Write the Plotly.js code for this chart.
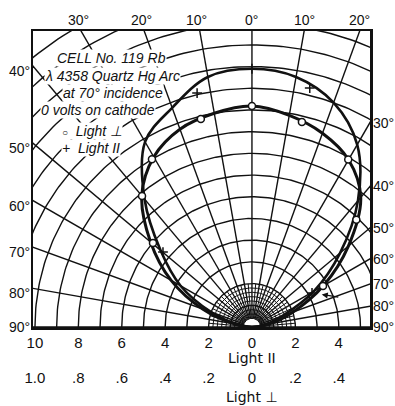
<!DOCTYPE html>
<html>
<head>
<meta charset="utf-8">
<script src="https://cdn.plot.ly/plotly-3.0.1.min.js"></script>
<style>html,body{margin:0;padding:0;background:#fff}</style>
</head>
<body>
<div id="chart" style="width:395px;height:406px"></div>
<script>
// Emission angle, degrees from the normal (negative = left of the normal)
const curveAngles = [-90, -80, -70, -60, -50, -40, -30, -20, -10, 0, 10, 20, 30, 40, 50, 60, 70, 80, 90];
// Smoothed photo-current, Light II (upper scale, 0–10)
const parallelCurve = [0, 0.7, 2.0, 3.8, 5.5, 7.7, 9.85, 10.75, 11.7, 11.9, 11.7, 11.0, 9.7, 7.6, 5.3, 3.3, 1.5, 0.6, 0];
// Smoothed photo-current, Light ⊥ (lower scale, 0–1)
const perpCurve = [0, 0.08, 0.24, 0.43, 0.61, 0.79, 0.905, 0.97, 1.0, 1.018, 0.99, 0.95, 0.89, 0.78, 0.58, 0.38, 0.2, 0.08, 0];

// Observed readings
const perpPointAngles = [0, -13.8, 13.7, -30.8, 29.9, -40, 44.2, -49.7, 60];
const perpPointValues = [1.018, 0.987, 0.972, 0.90, 0.89, 0.788, 0.69, 0.598, 0.378];
const parPointAngles = [0, -13.2, 13.6, -49.9, 60.5];
const parPointValues = [11.9, 11.07, 11.33, 5.36, 3.18];

// Bottom scales
const parTicks = [-10, -8, -6, -4, -2, 0, 2, 4];
const parTickText = ['10', '8', '6', '4', '2', '0', '2', '4'];
const perpTicks = [-1, -0.8, -0.6, -0.4, -0.2, 0, 0.2, 0.4];
const perpTickText = ['1.0', '.8', '.6', '.4', '.2', '0', '.2', '.4'];

// Angle labels round the frame
const topAngles = [-30, -20, -10, 0, 10, 20];
const leftAngles = [-40, -50, -60, -70, -80, -90];
const rightAngles = [30, 40, 50, 60, 70, 80, 90];

// Visible window in Light II units; the ⊥ axes use one tenth of it
const xMin = -10.09, xMax = 5.44, yMax = 13.64;
const perpRatio = 0.1;

const RAD = Math.PI / 180;
const px = (d, r) => r * Math.sin(d * RAD);
const py = (d, r) => r * Math.cos(d * RAD);

// Polar net: unit circles and 10° rays, plus a fine net near the origin
const gx = [], gy = [], fx = [], fy = [];
function arc(r, X, Y) {
  for (let d = -90; d <= 90; d += 1) { X.push(px(d, r)); Y.push(py(d, r)); }
  X.push(null); Y.push(null);
}
function ray(d, r0, r1, X, Y) {
  X.push(px(d, r0), px(d, r1), null);
  Y.push(py(d, r0), py(d, r1), null);
}
for (let r = 1; r <= 17; r++) arc(r, gx, gy);
for (let d = -90; d <= 90; d += 10) ray(d, 0.4, 18, gx, gy);
for (let k = 2; k < 10; k++) arc(k * 0.2, fx, fy);
for (let d = -85; d <= 85; d += 10) ray(d, 0.4, 2, fx, fy);

const ink = '#111';
const sans = 'Liberation Sans, Arial, sans-serif';

const traces = [
  { x: gx, y: gy, mode: 'lines', line: { color: ink, width: 1.4 }, hoverinfo: 'skip', showlegend: false },
  { x: fx, y: fy, mode: 'lines', line: { color: ink, width: 1 }, hoverinfo: 'skip', showlegend: false },
  {
    name: 'Light II', mode: 'lines', showlegend: false,
    x: curveAngles.map((d, i) => px(d, parallelCurve[i])),
    y: curveAngles.map((d, i) => py(d, parallelCurve[i])),
    line: { color: ink, width: 2.6, shape: 'spline', smoothing: 1 }
  },
  {
    name: 'Light ⊥', mode: 'lines', showlegend: false, xaxis: 'x2', yaxis: 'y2',
    x: curveAngles.map((d, i) => px(d, perpCurve[i])),
    y: curveAngles.map((d, i) => py(d, perpCurve[i])),
    line: { color: ink, width: 3, shape: 'spline', smoothing: 1 }
  },
  {
    name: 'Light II readings', mode: 'markers', showlegend: false,
    x: parPointAngles.map((d, i) => px(d, parPointValues[i])),
    y: parPointAngles.map((d, i) => py(d, parPointValues[i])),
    marker: { symbol: 'cross-thin', size: 7, line: { color: ink, width: 1.5 } }
  },
  {
    name: 'Light ⊥ readings', mode: 'markers', showlegend: false, xaxis: 'x2', yaxis: 'y2',
    x: perpPointAngles.map((d, i) => px(d, perpPointValues[i])),
    y: perpPointAngles.map((d, i) => py(d, perpPointValues[i])),
    marker: { symbol: 'circle', size: 7, color: '#fff', line: { color: ink, width: 1.5 } }
  }
];

const labelFont = { family: sans, size: 14, color: ink };
const annotations = [];
topAngles.forEach(d => annotations.push({
  x: yMax * Math.tan(d * RAD), y: yMax, xref: 'x', yref: 'y', text: Math.abs(d) + '°',
  showarrow: false, yanchor: 'bottom', yshift: 1, xshift: d < 0 ? -3 : 0, font: labelFont
}));
leftAngles.forEach(d => annotations.push({
  x: xMin, y: Math.abs(xMin) / Math.tan(Math.abs(d) * RAD), xref: 'x', yref: 'y', text: Math.abs(d) + '°',
  showarrow: false, xanchor: 'right', yanchor: 'middle', xshift: -1, yshift: d === -90 ? 0 : -5, font: labelFont
}));
rightAngles.forEach(d => annotations.push({
  x: xMax, y: xMax / Math.tan(d * RAD), xref: 'x', yref: 'y', text: d + '°',
  showarrow: false, xanchor: 'left', yanchor: 'middle', xshift: 1, font: labelFont
}));

// Caption block
const capFont = { family: sans, size: 14, color: ink, style: 'italic' };
const caption = [
  ['CELL No. 119 Rb', 0.232, 0.909, 'center'],
  ['λ 4358 Quartz Hg Arc', 0.237, 0.848, 'center'],
  ['at 70° incidence', 0.237, 0.790, 'center'],
  ['0 volts on cathode', 0.193, 0.733, 'center'],
  ['<span style="font-size:10px">○</span>  Light ⊥', 0.082, 0.662, 'left'],
  ['+  Light II', 0.082, 0.605, 'left']
];
caption.forEach(c => annotations.push({
  text: c[0], x: c[1], y: c[2], xref: 'paper', yref: 'paper', xanchor: c[3], yanchor: 'middle',
  showarrow: false, font: capFont, bgcolor: '#fff', borderpad: 0
}));

// Scale titles
const titleFont = { family: 'DejaVu Sans, sans-serif', size: 14, color: ink };
annotations.push({ text: 'Light II', x: 0, xref: 'x', y: -0.105, yref: 'paper', yanchor: 'middle', showarrow: false, font: titleFont });
annotations.push({ text: 'Light ⊥', x: 0, xref: 'x', y: -0.236, yref: 'paper', yanchor: 'middle', showarrow: false, font: titleFont });

// Pointer to the crossing curves low on the right
annotations.push({
  x: px(65, 3.55), y: py(65, 3.55), xref: 'x', yref: 'y', text: '',
  showarrow: true, arrowhead: 2, arrowsize: 1, arrowwidth: 1.2, arrowcolor: ink, ax: 18, ay: 3
});

const layout = {
  width: 395, height: 406,
  margin: { l: 33, r: 25, t: 31, b: 79 },
  paper_bgcolor: '#fff', plot_bgcolor: '#fff',
  showlegend: false,
  xaxis: {
    range: [xMin, xMax], tickvals: parTicks, ticktext: parTickText,
    showgrid: false, zeroline: false, ticks: '',
    showline: true, mirror: true, linecolor: ink, linewidth: 2.5,
    tickfont: { family: sans, size: 15, color: ink }, ticklabelstandoff: 0
  },
  yaxis: {
    range: [0, yMax], showgrid: false, zeroline: false, showticklabels: false, ticks: '',
    showline: true, mirror: true, linecolor: ink, linewidth: 2.5
  },
  xaxis2: {
    overlaying: 'x', anchor: 'y2', side: 'bottom',
    range: [xMin * perpRatio, xMax * perpRatio], tickvals: perpTicks, ticktext: perpTickText,
    showgrid: false, zeroline: false, ticks: '', showline: false,
    tickfont: { family: sans, size: 15, color: ink }, ticklabelstandoff: 40
  },
  yaxis2: {
    overlaying: 'y', range: [0, yMax * perpRatio], visible: false
  },
  annotations: annotations
};

Plotly.newPlot('chart', traces, layout, { displayModeBar: false, staticPlot: true });
</script>
</body>
</html>
